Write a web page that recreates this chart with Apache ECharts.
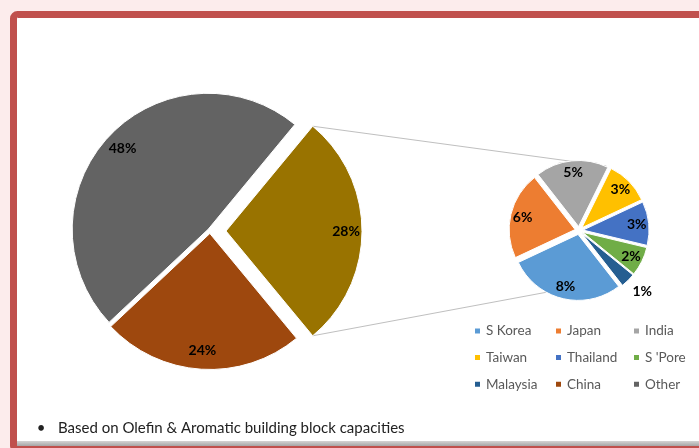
<!DOCTYPE html>
<html>
<head>
<meta charset="utf-8">
<script src="https://cdn.jsdelivr.net/npm/echarts@6/dist/echarts.min.js"></script>
<style>
  html, body { margin: 0; padding: 0; background: #fcecec; }
  #chart { width: 699px; height: 448px; }
</style>
</head>
<body>
<div id="chart"></div>
<script>
// Capacity shares (%) by region
const regionNames = ['Other', 'China'];
const regionShares = [48, 24];
const asiaGroupName = 'Other Asia';
const asiaNames = ['S Korea', 'Japan', 'India', 'Taiwan', 'Thailand', "S 'Pore", 'Malaysia'];
const asiaShares = [8, 6, 5, 3, 3, 2, 1];
const footnote = 'Based on Olefin & Aromatic building block capacities';

// Legend columns (row-major reading: S Korea, Japan, India, Taiwan, ...)
const legendColumns = [
  ['S Korea', 'Taiwan', 'Malaysia'],
  ['Japan', 'Thailand', 'China'],
  ['India', "S 'Pore", 'Other']
];

const colors = {
  'Other': '#636363',
  'China': '#9e480e',
  'Other Asia': '#997300',
  'S Korea': '#5b9bd5',
  'Japan': '#ed7d31',
  'India': '#a5a5a5',
  'Taiwan': '#ffc000',
  'Thailand': '#4472c4',
  "S 'Pore": '#70ad47',
  'Malaysia': '#255e91'
};

// Layout
const BIG = { cx: 210, cy: 231, r: 136, gap: 2.5, split: 16, labelRing: [98, 136] };
const SMALL = { cx: 579, cy: 230.5, r: 66, gap: 4, startAngle: 308, labelRing: [36, 66] };
const CONNECT_ANGLES = [67, 242];
const FONT = 'Lato, "Open Sans", sans-serif';

const asiaTotal = asiaShares.reduce((a, b) => a + b, 0);
const bigTotal = asiaTotal + regionShares.reduce((a, b) => a + b, 0);
// The split slice is centred on 3 o'clock
const halfSplit = asiaTotal / bigTotal * 180;
const bigStart = halfSplit;

// Big pie order (clockwise from the top edge of the split slice)
const bigNames = [asiaGroupName, regionNames[1], regionNames[0]];
const bigValues = [asiaTotal, regionShares[1], regionShares[0]];

const clear = 'rgba(0,0,0,0)';

function bigData(visible, selected) {
  return bigNames.map((n, i) => ({
    name: n,
    value: bigValues[i],
    selected: selected.includes(n),
    itemStyle: visible.includes(n)
      ? { color: colors[n], borderColor: '#fff', borderWidth: 1 }
      : { color: clear, borderWidth: 0 }
  }));
}

const labelStyle = {
  show: true,
  position: 'inside',
  formatter: '{c}%',
  color: '#000',
  fontFamily: FONT,
  fontWeight: 'bold',
  fontSize: 14
};

const series = [
  {
    type: 'pie', name: 'base', center: [BIG.cx, BIG.cy], radius: [0, BIG.r],
    startAngle: bigStart, clockwise: true, selectedMode: 'multiple', selectedOffset: BIG.gap,
    label: { show: false }, labelLine: { show: false }, silent: true,
    emphasis: { disabled: true },
    data: bigData(regionNames, regionNames)
  },
  {
    type: 'pie', name: 'split', center: [BIG.cx, BIG.cy], radius: [0, BIG.r],
    startAngle: bigStart, clockwise: true, selectedMode: 'multiple', selectedOffset: BIG.split,
    label: { show: false }, labelLine: { show: false }, silent: true,
    emphasis: { disabled: true },
    data: bigData([asiaGroupName], [asiaGroupName])
  },
  {
    type: 'pie', name: 'bigLabels', center: [BIG.cx, BIG.cy], radius: BIG.labelRing,
    startAngle: bigStart, clockwise: true, selectedMode: 'multiple', selectedOffset: BIG.split,
    label: labelStyle, labelLine: { show: false }, silent: true,
    emphasis: { disabled: true },
    data: bigData([], [asiaGroupName])
  },
  {
    type: 'pie', name: 'asia', center: [SMALL.cx, SMALL.cy], radius: [0, SMALL.r],
    startAngle: SMALL.startAngle, clockwise: true, selectedMode: 'multiple', selectedOffset: SMALL.gap,
    label: { show: false }, labelLine: { show: false }, silent: true,
    emphasis: { disabled: true },
    data: asiaNames.map((n, i) => ({
      name: n, value: asiaShares[i], selected: true,
      itemStyle: { color: colors[n], borderColor: '#fff', borderWidth: 1 }
    }))
  },
  {
    type: 'pie', name: 'asiaLabels', center: [SMALL.cx, SMALL.cy], radius: SMALL.labelRing,
    startAngle: SMALL.startAngle, clockwise: true, selectedMode: 'multiple', selectedOffset: SMALL.gap,
    label: labelStyle, labelLine: { show: false }, silent: true,
    emphasis: { disabled: true },
    data: asiaNames.map((n, i) => {
      const item = {
        name: n, value: asiaShares[i], selected: true,
        itemStyle: { color: clear, borderWidth: 0 }
      };
      // The thinnest slice carries its label outside the pie
      if (asiaShares[i] === Math.min(...asiaShares)) {
        item.label = { position: 'outside', distanceToLabelLine: -6 };
        item.labelLine = { show: false, length: 15, length2: 0 };
      }
      return item;
    })
  }
];

// Connector lines from the split slice edges to the breakdown pie
const rad = d => d * Math.PI / 180;
const splitCx = BIG.cx + BIG.split;
const splitCy = BIG.cy;
const splitTop = [splitCx + BIG.r * Math.cos(rad(halfSplit)), splitCy - BIG.r * Math.sin(rad(halfSplit))];
const splitBottom = [splitCx + BIG.r * Math.cos(rad(halfSplit)), splitCy + BIG.r * Math.sin(rad(halfSplit))];
const rr = SMALL.r + SMALL.gap;
const smallTop = [SMALL.cx + rr * Math.cos(rad(CONNECT_ANGLES[0])), SMALL.cy - rr * Math.sin(rad(CONNECT_ANGLES[0]))];
const smallBottom = [SMALL.cx + rr * Math.cos(rad(CONNECT_ANGLES[1])), SMALL.cy - rr * Math.sin(rad(CONNECT_ANGLES[1]))];

const legendX = [473, 554, 632];
const legends = legendColumns.map((col, i) => ({
  orient: 'vertical',
  left: legendX[i],
  top: 323,
  padding: 0,
  itemGap: 10.6,
  itemWidth: 7,
  itemHeight: 7,
  icon: 'rect',
  selectedMode: false,
  textStyle: { color: '#595959', fontFamily: FONT, fontSize: 13.5, lineHeight: 16, padding: [0, 0, 0, 0] },
  data: col.map(n => ({ name: n, itemStyle: { color: colors[n] } }))
}));

const chart = echarts.init(document.getElementById('chart'), null, { renderer: 'canvas' });
chart.setOption({
  backgroundColor: '#fcecec',
  animation: false,
  legend: legends,
  graphic: [
    {
      type: 'rect', z: -10, silent: true,
      shape: { x: 13.5, y: 14.5, width: 720, height: 435, r: 4 },
      style: { fill: '#ffffff', stroke: '#c0504d', lineWidth: 7 }
    },
    {
      type: 'rect', z: -9, silent: true,
      shape: { x: 17, y: 441, width: 690, height: 5 },
      style: {
        fill: new echarts.graphic.LinearGradient(0, 0, 0, 1, [
          { offset: 0, color: '#d4d4d4' },
          { offset: 1, color: '#a6a6a6' }
        ])
      }
    },
    {
      type: 'line', z: -5, silent: true,
      shape: { x1: splitTop[0], y1: splitTop[1], x2: smallTop[0], y2: smallTop[1] },
      style: { stroke: '#bfbfbf', lineWidth: 1 }
    },
    {
      type: 'line', z: -5, silent: true,
      shape: { x1: splitBottom[0], y1: splitBottom[1], x2: smallBottom[0], y2: smallBottom[1] },
      style: { stroke: '#bfbfbf', lineWidth: 1 }
    },
    {
      type: 'text', silent: true, x: 41, y: 428,
      style: { text: '•', fill: '#222', font: '15px ' + FONT, align: 'center', verticalAlign: 'middle' }
    },
    {
      type: 'text', silent: true, x: 58, y: 428,
      style: { text: footnote, fill: '#222', font: '15px ' + FONT, align: 'left', verticalAlign: 'middle' }
    }
  ],
  series: series
});
</script>
</body>
</html>
